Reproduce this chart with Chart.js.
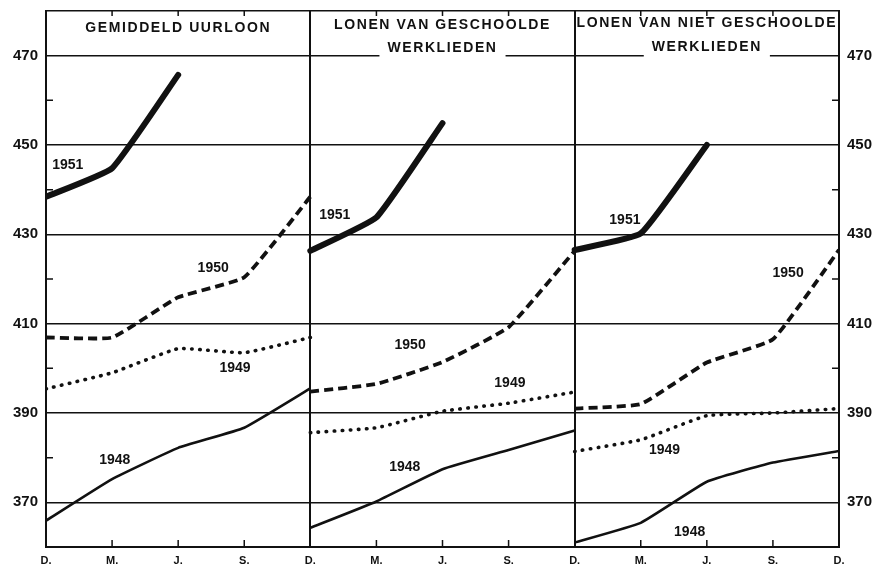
<!DOCTYPE html>
<html>
<head>
<meta charset="utf-8">
<script src="https://cdn.jsdelivr.net/npm/chart.js@4/dist/chart.umd.min.js"></script>
<style>
  html, body { margin: 0; padding: 0; background: #fff; }
  canvas { display: block; }
</style>
</head>
<body>
<canvas id="loonChart" width="882" height="570"></canvas>
<script>
// months per panel: Dec, Mar, Jun, Sep, (next) Dec
const months = ['D.', 'M.', 'J.', 'S.'];
const yTicks = [370, 390, 410, 430, 450, 470];
const years = ['1948', '1949', '1950', '1951'];

const panelTitles = [
  ['GEMIDDELD UURLOON'],
  ['LONEN VAN GESCHOOLDE', 'WERKLIEDEN'],
  ['LONEN VAN NIET GESCHOOLDE', 'WERKLIEDEN']
];

// gemiddeld uurloon
const uurloon1948 = [365.9, 375.2, 382.2, 386.7, 395.5];
const uurloon1949 = [395.4, 399.0, 404.4, 403.5, 406.9];
const uurloon1950 = [406.9, 406.9, 415.9, 420.4, 438.4];
const uurloon1951 = [438.4, 444.8, 465.7];

// lonen van geschoolde werklieden
const geschoold1948 = [364.3, 370.2, 377.4, 381.7, 386.1];
const geschoold1949 = [385.6, 386.7, 390.4, 392.2, 394.7];
const geschoold1950 = [394.8, 396.5, 401.4, 409.2, 426.3];
const geschoold1951 = [426.3, 433.8, 454.9];

// lonen van niet geschoolde werklieden
const ongeschoold1948 = [361.0, 365.4, 374.6, 378.9, 381.5];
const ongeschoold1949 = [381.4, 384.0, 389.4, 390.0, 391.0];
const ongeschoold1950 = [391.0, 392.0, 401.3, 406.5, 426.5];
const ongeschoold1951 = [426.5, 430.2, 450.0];

const panels = [
  [uurloon1948, uurloon1949, uurloon1950, uurloon1951],
  [geschoold1948, geschoold1949, geschoold1950, geschoold1951],
  [ongeschoold1948, ongeschoold1949, ongeschoold1950, ongeschoold1951]
];

// line style for each year
const yearStyle = {
  '1948': { borderWidth: 2.6, borderDash: [] },
  '1949': { borderWidth: 3.6, borderDash: [0.5, 7.5], borderCapStyle: 'round' },
  '1950': { borderWidth: 3.8, borderDash: [9, 5] },
  '1951': { borderWidth: 6, borderDash: [], borderCapStyle: 'round' }
};

// where the year names sit (panel x units, value)
const yearLabels = [
  [1.04, 379.4, '1948'], [2.86, 400.0, '1949'], [2.53, 422.4, '1950'], [0.33, 445.4, '1951'],
  [5.43, 377.9, '1948'], [7.02, 396.7, '1949'], [5.51, 405.2, '1950'], [4.37, 434.3, '1951'],
  [9.74, 363.3, '1948'], [9.36, 381.7, '1949'], [11.23, 421.3, '1950'], [8.76, 433.1, '1951']
];

const FONT = "'Liberation Sans', 'DejaVu Sans', sans-serif";

let datasets = [];
panels.forEach((series, p) => {
  series.forEach((values, i) => {
    let yr = years[i];
    datasets.push(Object.assign({
      label: panelTitles[p][0] + ' ' + yr,
      data: values.map((v, j) => ({ x: p * 4 + j, y: v })),
      borderColor: '#111',
      backgroundColor: '#111',
      fill: false,
      tension: 0.12,
      pointRadius: 0,
      borderJoinStyle: 'round'
    }, yearStyle[yr]));
  });
});

const decor = {
  id: 'decor',
  afterDraw(chart) {
    const ctx = chart.ctx;
    const a = chart.chartArea;
    const xs = chart.scales.x;
    const ys = chart.scales.y;
    ctx.save();
    ctx.strokeStyle = '#111';
    ctx.lineWidth = 1.5;

    // short ticks on the frame
    ctx.beginPath();
    for (let v = 380; v <= 460; v += 20) {
      let y = ys.getPixelForValue(v);
      ctx.moveTo(a.left, y); ctx.lineTo(a.left + 7, y);
      ctx.moveTo(a.right, y); ctx.lineTo(a.right - 7, y);
    }
    for (let i = 1; i < 12; i++) {
      if (i % 4 === 0) continue;
      let x = xs.getPixelForValue(i);
      ctx.moveTo(x, a.bottom); ctx.lineTo(x, a.bottom - 7);
      ctx.moveTo(x, a.top); ctx.lineTo(x, a.top + 5);
    }
    ctx.stroke();

    // panel titles
    ctx.fillStyle = '#111';
    ctx.textAlign = 'center';
    ctx.textBaseline = 'middle';
    ctx.font = 'bold 14px ' + FONT;
    ctx.letterSpacing = '1.6px';
    const titleRows = [[476.2], [476.8, 471.7], [477.2, 471.9]];
    panelTitles.forEach((lines, p) => {
      let cx = xs.getPixelForValue(p * 4 + 2);
      lines.forEach((txt, k) => {
        let y = ys.getPixelForValue(titleRows[p][k]);
        if (k === 1) {
          let w = ctx.measureText(txt).width;
          ctx.fillStyle = '#fff';
          ctx.fillRect(cx - w / 2 - 8, y - 10, w + 16, 22);
          ctx.fillStyle = '#111';
        }
        ctx.fillText(txt, cx, y);
      });
    });

    // year names on the lines
    ctx.letterSpacing = '0px';
    ctx.font = 'bold 14px ' + FONT;
    yearLabels.forEach(([x, v, txt]) => {
      ctx.fillText(txt, xs.getPixelForValue(x), ys.getPixelForValue(v));
    });
    ctx.restore();
  }
};

const gridColor = (c) => (yTicks.includes(c.tick.value) || c.tick.value === 480) ? '#111' : 'rgba(0,0,0,0)';

// fixed widths for the value axes, no extra room for the end labels
const fitValueAxis = (w) => (s) => { s.width = w; s.paddingTop = 0; s.paddingBottom = 0; };

new Chart(document.getElementById('loonChart'), {
  type: 'line',
  data: { datasets: datasets },
  options: {
    responsive: false,
    animation: false,
    devicePixelRatio: 1,
    layout: { padding: { top: 11, left: 0, right: 0, bottom: 0 } },
    plugins: { legend: { display: false }, tooltip: { enabled: false } },
    scales: {
      x: {
        type: 'linear', min: 0, max: 12,
        afterFit: (s) => { s.height = 23; s.paddingLeft = 0; s.paddingRight = 0; },
        afterBuildTicks: (s) => { s.ticks = Array.from({ length: 13 }, (_, i) => ({ value: i })); },
        ticks: {
          autoSkip: false, maxRotation: 0, padding: 7, color: '#111',
          font: { family: FONT, weight: 'bold', size: 11 },
          callback: (v) => months[v % 4]
        },
        grid: { color: (c) => c.tick.value % 4 === 0 ? '#111' : 'rgba(0,0,0,0)', lineWidth: 2, drawTicks: false },
        border: { display: true, color: '#111', width: 2 }
      },
      y: {
        position: 'left', min: 360, max: 480,
        afterFit: fitValueAxis(46),
        ticks: {
          stepSize: 10, padding: 8, color: '#111',
          font: { family: FONT, weight: 'bold', size: 15 },
          callback: (v) => yTicks.includes(v) ? String(v) : ''
        },
        grid: { color: gridColor, lineWidth: 1.6, drawTicks: false },
        border: { display: true, color: '#111', width: 2 }
      },
      y2: {
        position: 'right', min: 360, max: 480,
        afterFit: fitValueAxis(43),
        ticks: {
          stepSize: 10, padding: 8, color: '#111',
          font: { family: FONT, weight: 'bold', size: 15 },
          callback: (v) => yTicks.includes(v) ? String(v) : ''
        },
        grid: { drawOnChartArea: false, drawTicks: false },
        border: { display: true, color: '#111', width: 2 }
      }
    }
  },
  plugins: [decor]
});
</script>
</body>
</html>
